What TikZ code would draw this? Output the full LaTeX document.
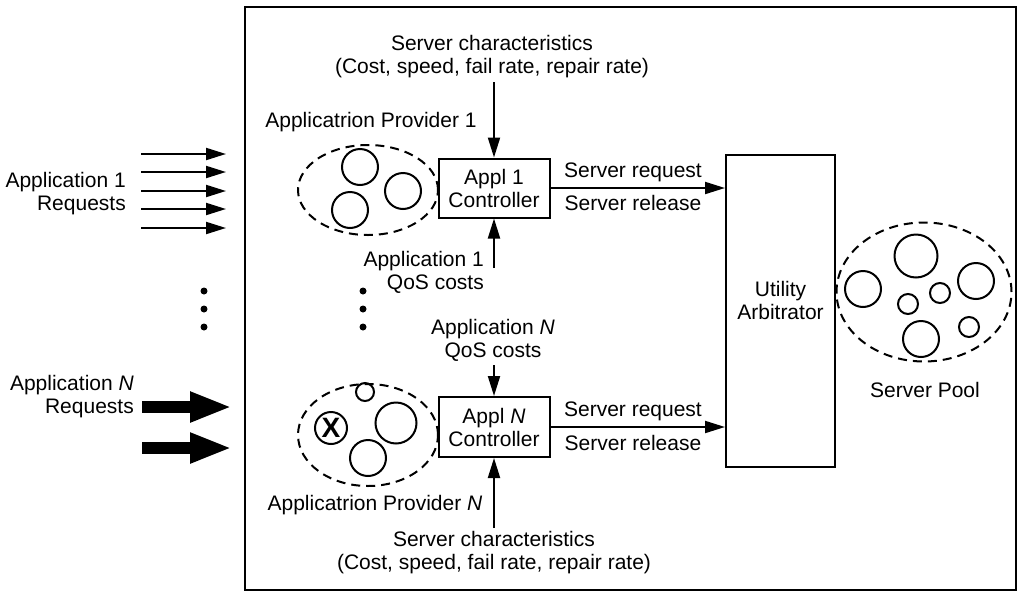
\documentclass[tikz,border=0pt]{standalone}
\usepackage{fontspec}
\setmainfont{Liberation Sans}
\usetikzlibrary{arrows.meta,shapes.geometric}
\begin{document}
\begin{tikzpicture}[x=1pt,y=-1pt,
  font=\fontsize{21}{23}\selectfont,
  ln/.style={line width=2pt},
  arr/.style={ln,-{Triangle[length=20pt,width=12pt]}},
  bigarr/.style={line width=12pt,-{Triangle[length=42pt,width=28pt]}},
  pool/.style={ellipse,draw,line width=2pt,dash pattern=on 9pt off 6pt,inner sep=0pt},
  srv/.style={circle,draw,line width=2pt,inner sep=0pt},
  ctrl/.style={draw,line width=2pt,align=center,inner sep=0pt},
  dotn/.style={circle,fill,inner sep=0pt,minimum size=7pt},
  lbl/.style={align=center,inner sep=0pt},
]
\useasboundingbox (0,0) rectangle (1026,603);
\node[draw,line width=2pt,inner sep=0pt,minimum width=771pt,minimum height=583pt] (frame) at (630.5,298.5) {};

% provider 1
\node[pool,minimum width=140pt,minimum height=90pt] (prov1) at (368,190) {};
\node[srv,minimum size=36pt] (p1a) at (360,167) {};
\node[srv,minimum size=36pt] (p1b) at (403,191) {};
\node[srv,minimum size=36pt] (p1c) at (350,210) {};
\node[lbl] (prov1lbl) at (371,122) {Applicatrion Provider 1};

% provider N
\node[pool,minimum width=140pt,minimum height=102pt] (provN) at (368,435) {};
\node[srv,minimum size=18pt] (pNa) at (365,392) {};
\node[srv,minimum size=32pt,font=\fontsize{28}{28}\selectfont\bfseries] (pNx) at (331,428) {X};
\node[srv,minimum size=41pt] (pNb) at (396,423) {};
\node[srv,minimum size=36pt] (pNc) at (368,458) {};
\node[lbl] (provNlbl) at (375,505) {Applicatrion Provider \textit{N}};

% controllers
\node[ctrl,minimum width=111pt,minimum height=59pt] (ctrl1) at (494,188) {Appl 1\\Controller};
\node[ctrl,minimum width=111pt,minimum height=60pt] (ctrlN) at (494,427) {Appl \textit{N}\\Controller};

% arbitrator
\node[draw,line width=2pt,inner sep=0pt,minimum width=109pt,minimum height=312pt] (arb) at (780.5,311) {};
\node[lbl] (arbtxt) at (780.5,300) {Utility\\Arbitrator};

% server pool
\node[pool,minimum width=175pt,minimum height=139pt] (spool) at (924,292) {};
\node[srv,minimum size=43pt] (s1) at (916,256) {};
\node[srv,minimum size=36pt] (s2) at (863,289) {};
\node[srv,minimum size=36pt] (s3) at (976,281) {};
\node[srv,minimum size=20pt] (s4) at (940,293) {};
\node[srv,minimum size=20pt] (s5) at (908,304) {};
\node[srv,minimum size=36pt] (s6) at (921,339) {};
\node[srv,minimum size=20pt] (s7) at (969,327) {};
\node[lbl] (spoollbl) at (925,390) {Server Pool};

% texts
\node[lbl] (sc1) at (492,56.5) {Server characteristics\\(Cost, speed, fail rate, repair rate)};
\node[lbl] (sc2) at (494,552.5) {Server characteristics\\(Cost, speed, fail rate, repair rate)};
\node[lbl,align=right,anchor=east] (qos1) at (484,272.5) {Application 1\\QoS costs};
\node[lbl] (qosN) at (493,340.5) {Application \textit{N}\\QoS costs};
\node[lbl,align=right,anchor=east] (req1) at (126,194) {Application 1\\Requests};
\node[lbl,align=right,anchor=east] (reqN) at (134,397) {Application \textit{N}\\Requests};
\node[lbl] (sreq1) at (633,172) {Server request};
\node[lbl] (srel1) at (633,203) {Server release};
\node[lbl] (sreqN) at (633,411) {Server request};
\node[lbl] (srelN) at (633,443) {Server release};

% dots
\foreach \yy [count=\i] in {291,309,327} {
  \node[dotn] (dl\i) at (204,\yy) {};
  \node[dotn] (dm\i) at (363,\yy) {};
}

% vertical arrows
\coordinate (c1top) at (494,82);
\coordinate (c1bot) at (494,268);
\coordinate (cNtop) at (494,365);
\coordinate (cNbot) at (494,528);
\draw[arr] (c1top) -- (ctrl1.north);
\draw[arr] (c1bot) -- (ctrl1.south);
\draw[arr] (cNtop) -- (ctrlN.north);
\draw[arr] (cNbot) -- (ctrlN.south);

% horizontal to arbitrator
\draw[arr] (ctrl1.east) -- (ctrl1.east -| arb.west);
\draw[arr] (ctrlN.east) -- (ctrlN.east -| arb.west);

% request arrows
\foreach \yy [count=\i] in {154,172,191,209,228} {
  \coordinate (ls\i) at (141,\yy);
  \coordinate (le\i) at (226,\yy);
  \draw[arr] (ls\i) -- (le\i);
}
\coordinate (bs1) at (142,407);
\coordinate (be1) at (232,407);
\coordinate (bs2) at (142,448);
\coordinate (be2) at (232,448);
\draw[bigarr] (bs1) -- (be1);
\draw[bigarr] (bs2) -- (be2);
\end{tikzpicture}
\end{document}
